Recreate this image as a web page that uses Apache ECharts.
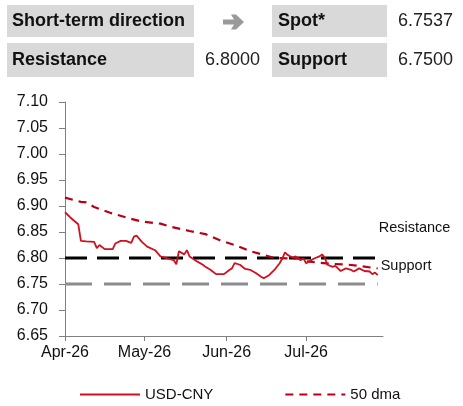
<!DOCTYPE html>
<html>
<head>
<meta charset="utf-8">
<script src="https://cdn.jsdelivr.net/npm/echarts@6/dist/echarts.min.js"></script>
<style>
html, body { margin: 0; padding: 0; background: #fff; }
#chart { width: 463px; height: 406px; }
</style>
</head>
<body>
<div id="chart"></div>
<script>
// USD-CNY spot
var spotDates = ["2026-04-01","2026-04-03","2026-04-06","2026-04-07","2026-04-09","2026-04-12","2026-04-13","2026-04-14","2026-04-16","2026-04-19","2026-04-20","2026-04-22","2026-04-24","2026-04-26","2026-04-27","2026-04-28","2026-04-30",
	"2026-05-02","2026-05-05","2026-05-07","2026-05-10","2026-05-12","2026-05-13","2026-05-14","2026-05-16","2026-05-17","2026-05-18","2026-05-21","2026-05-23","2026-05-24","2026-05-26","2026-05-28","2026-05-31",
	"2026-06-02","2026-06-03","2026-06-04","2026-06-06","2026-06-08","2026-06-10","2026-06-12","2026-06-14","2026-06-15","2026-06-17","2026-06-19","2026-06-21","2026-06-22","2026-06-23","2026-06-24","2026-06-25","2026-06-26","2026-06-27","2026-06-29","2026-06-30",
	"2026-07-01","2026-07-02","2026-07-04","2026-07-06","2026-07-07","2026-07-08","2026-07-09","2026-07-11","2026-07-12","2026-07-13","2026-07-14","2026-07-16","2026-07-18","2026-07-19","2026-07-21","2026-07-23","2026-07-25","2026-07-26","2026-07-27","2026-07-28"];
var spotValues = [6.888,6.878,6.865,6.833,6.832,6.831,6.819,6.825,6.817,6.817,6.828,6.833,6.833,6.829,6.841,6.843,6.831,
	6.822,6.815,6.803,6.799,6.796,6.788,6.813,6.807,6.815,6.803,6.793,6.787,6.783,6.777,6.769,6.769,
	6.777,6.780,6.790,6.787,6.779,6.777,6.771,6.764,6.761,6.767,6.777,6.790,6.799,6.811,6.806,6.803,6.801,6.803,6.796,6.799,
	6.790,6.793,6.799,6.803,6.807,6.801,6.787,6.783,6.785,6.780,6.775,6.780,6.777,6.774,6.780,6.775,6.774,6.769,6.772,6.767];

// 50 day moving average
var dmaDates = ["2026-04-01","2026-04-07","2026-04-09","2026-04-12","2026-04-18","2026-04-24","2026-04-30","2026-05-07","2026-05-11","2026-05-18","2026-05-24","2026-05-29","2026-06-04","2026-06-10","2026-06-15","2026-06-19","2026-06-28","2026-06-30","2026-07-10","2026-07-17","2026-07-22","2026-07-28"];
var dmaValues = [6.916,6.908,6.907,6.898,6.887,6.878,6.870,6.866,6.860,6.852,6.846,6.835,6.825,6.813,6.806,6.800,6.799,6.794,6.789,6.787,6.784,6.780];

var levelDates = ["2026-04-01","2026-07-28"];
var resistanceLevel = 6.80;
var supportLevel = 6.75;

var monthNames = ["Jan","Feb","Mar","Apr","May","Jun","Jul","Aug","Sep","Oct","Nov","Dec"];

// summary table at the top
var tableLabels = ["Short-term direction","Spot*","Resistance","Support"];
var tableValues = ["6.7537","6.8000","6.7500"];

var FONT = "'Liberation Sans', Arial, sans-serif";

function toTime(s) {
	var p = s.split("-");
	return new Date(+p[0], +p[1] - 1, +p[2]).getTime();
}

function pairs(dates, values) {
	var out = [];
	for (var i = 0; i < dates.length; i++) {
		out.push([toTime(dates[i]), values[i]]);
	}
	return out;
}

function flat(dates, v) {
	var out = [];
	for (var i = 0; i < dates.length; i++) {
		out.push([toTime(dates[i]), v]);
	}
	return out;
}

function formatMonth(val) {
	var d = new Date(val);
	return monthNames[d.getMonth()] + "-" + String(d.getFullYear()).slice(2);
}

var tableGraphic = [
	{ type: "rect", shape: { x: 7, y: 5, width: 187, height: 32 }, style: { fill: "#d9d9d9" } },
	{ type: "rect", shape: { x: 272, y: 5, width: 115, height: 32 }, style: { fill: "#d9d9d9" } },
	{ type: "rect", shape: { x: 7, y: 43, width: 187, height: 34 }, style: { fill: "#d9d9d9" } },
	{ type: "rect", shape: { x: 272, y: 43, width: 115, height: 34 }, style: { fill: "#d9d9d9" } },
	{ type: "text", x: 12, y: 21, style: { text: tableLabels[0], font: "bold 18px " + FONT, fill: "#111", textVerticalAlign: "middle" } },
	// direction arrow (sideways)
	{ type: "polygon", shape: { points: [[223, 19.5], [234, 19.5], [231, 14.5], [236, 14.5], [244, 22], [236, 29.5], [231, 29.5], [234, 24.5], [223, 24.5]] }, style: { fill: "#9a9a9a" } },
	{ type: "text", x: 278, y: 21, style: { text: tableLabels[1], font: "bold 18px " + FONT, fill: "#111", textVerticalAlign: "middle" } },
	{ type: "text", x: 453, y: 21, style: { text: tableValues[0], font: "18px " + FONT, fill: "#222", textAlign: "right", textVerticalAlign: "middle" } },
	{ type: "text", x: 12, y: 60, style: { text: tableLabels[2], font: "bold 18px " + FONT, fill: "#111", textVerticalAlign: "middle" } },
	{ type: "text", x: 260, y: 60, style: { text: tableValues[1], font: "18px " + FONT, fill: "#222", textAlign: "right", textVerticalAlign: "middle" } },
	{ type: "text", x: 278, y: 60, style: { text: tableLabels[3], font: "bold 18px " + FONT, fill: "#111", textVerticalAlign: "middle" } },
	{ type: "text", x: 453, y: 60, style: { text: tableValues[2], font: "18px " + FONT, fill: "#222", textAlign: "right", textVerticalAlign: "middle" } }
];

var chart = echarts.init(document.getElementById("chart"));
var option = {
	animation: false,
	backgroundColor: "#fff",
	graphic: tableGraphic,
	grid: { left: 65, top: 102, right: 80, bottom: 70, containLabel: false },
	legend: {
		top: 382,
		left: 74,
		itemWidth: 60,
		itemHeight: 12,
		itemGap: 71,
		data: ["USD-CNY", "50 dma"],
		itemStyle: { opacity: 0 },
		textStyle: { fontFamily: FONT, fontSize: 15, color: "#111" }
	},
	xAxis: {
		type: "time",
		min: toTime("2026-04-01"),
		max: toTime("2026-07-30"),
		minInterval: 28 * 86400000,
		maxInterval: 31 * 86400000,
		axisLine: { lineStyle: { color: "#808080", width: 1 } },
		axisTick: { show: true, length: 5, lineStyle: { color: "#808080" } },
		axisLabel: { fontFamily: FONT, fontSize: 16, color: "#111", margin: 9, showMaxLabel: false, formatter: formatMonth },
		splitLine: { show: false }
	},
	yAxis: {
		type: "value",
		min: 6.65,
		max: 7.10,
		interval: 0.05,
		axisLine: { show: true, lineStyle: { color: "#808080", width: 1 } },
		axisTick: { show: true, length: 6, lineStyle: { color: "#808080" } },
		axisLabel: { fontFamily: FONT, fontSize: 16, color: "#111", margin: 17, formatter: function (v) { return v.toFixed(2); } },
		splitLine: { show: false }
	},
	series: [
		{
			name: "Support",
			type: "line",
			data: flat(levelDates, supportLevel),
			symbol: "none",
			lineStyle: { color: "#8c8c8c", width: 3, type: [27, 12] },
			endLabel: { show: true, formatter: "Support", offset: [-5, -18], fontFamily: FONT, fontSize: 14.5, color: "#111" },
			z: 1
		},
		{
			name: "Resistance",
			type: "line",
			data: flat(levelDates, resistanceLevel),
			symbol: "none",
			lineStyle: { color: "#000", width: 3, type: [22, 10] },
			endLabel: { show: true, formatter: "Resistance", offset: [-7, -30], fontFamily: FONT, fontSize: 14.5, color: "#111" },
			z: 1
		},
		{
			name: "50 dma",
			type: "line",
			data: pairs(dmaDates, dmaValues),
			symbol: "none",
			lineStyle: { color: "#b8001a", width: 2.2, type: [8, 6] },
			itemStyle: { color: "#b8001a" },
			z: 2
		},
		{
			name: "USD-CNY",
			type: "line",
			data: pairs(spotDates, spotValues),
			symbol: "none",
			lineStyle: { color: "#d0101f", width: 1.8 },
			itemStyle: { color: "#d0101f" },
			z: 3
		}
	]
};
chart.setOption(option);
</script>
</body>
</html>
